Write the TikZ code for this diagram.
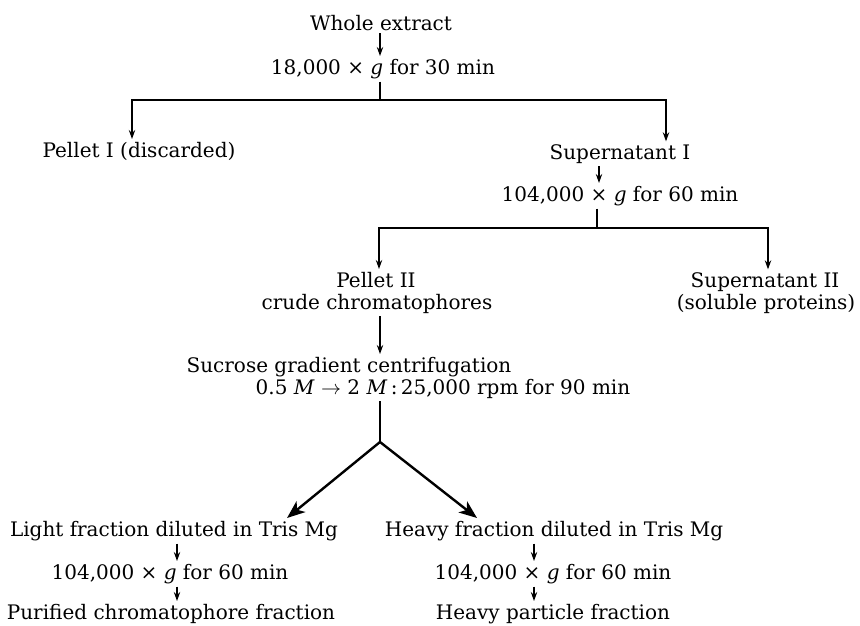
\documentclass[tikz,border=0pt]{standalone}
\usepackage{fontspec}
\setmainfont{DejaVu Serif}
\usetikzlibrary{arrows.meta}
\tikzset{
  txt/.style={inner sep=1.5pt, outer sep=0pt, anchor=mid,
    font=\fontsize{10}{12}\selectfont},
  flow/.style={line width=0.6pt, -{Stealth[length=4.5pt,width=3.2pt]}},
  bar/.style={line width=0.6pt},
  fork/.style={line width=1.2pt, -{Stealth[length=9pt,width=7pt,inset=2.5pt]}}
}
\newcommand{\spin}[2]{#1 × \textit{g} for #2 min}

\begin{document}
\begin{tikzpicture}[x=0.5pt, y=-0.5pt]
\useasboundingbox (0,0) rectangle (860,625);
% first spin
\node[txt] (whole) at (381,25) {Whole extract};
\node[txt] (spin1) at (383,69) {\spin{18,000}{30}};
\node[txt] (pel1) at (139,152) {Pellet I (discarded)};
\node[txt] (sup1) at (620,154) {Supernatant I};
% second spin
\node[txt] (spin2) at (620,196) {\spin{104,000}{60}};
\node[txt] (pel2) at (376,282) {Pellet II};
\node[txt] (crude) at (377,304) {crude chromatophores};
\node[txt] (sup2) at (765,282) {Supernatant II};
\node[txt] (sol) at (766,304) {(soluble proteins)};
% gradient
\node[txt] (sucr) at (349,367) {Sucrose gradient centrifugation};
\node[txt] (grad) at (443,389) {0.5 \textit{M} $\rightarrow$ 2 \textit{M}\,:\,25,000 rpm for 90 min};
\coordinate (apex) at (380,442);
% fractions
\node[txt] (light) at (174,531) {Light fraction diluted in Tris Mg};
\node[txt] (spinL) at (170,574) {\spin{104,000}{60}};
\node[txt] (pur) at (171,614) {Purified chromatophore fraction};
\node[txt] (heavy) at (554,531) {Heavy fraction diluted in Tris Mg};
\node[txt] (spinH) at (553,574) {\spin{104,000}{60}};
\node[txt] (hpart) at (553,614) {Heavy particle fraction};
% straight arrows
\foreach \a/\b/\x in {whole/spin1/380, sup1/spin2/599, crude/sucr/380,
    light/spinL/177, spinL/pur/177, heavy/spinH/534, spinH/hpart/534}
  \draw[flow] (\a.south -| \x,0) -- (\b.north -| \x,0);
% splits
\draw[bar] (spin1.south -| 380,0) -- (380,100);
\draw[flow] (380,100) -| (pel1.north -| 132,0);
\draw[flow] (380,100) -| (sup1.north -| 666,0);
\draw[bar] (spin2.south -| 597,0) -- (597,228);
\draw[flow] (597,228) -| (pel2.north -| 379,0);
\draw[flow] (597,228) -| (sup2.north -| 768,0);
% fork
\draw[bar] (grad.south -| 380,0) -- (apex);
\draw[fork] (apex) -- (light.north -| 287,0);
\draw[fork] (apex) -- (heavy.north -| 477,0);
\end{tikzpicture}
\end{document}
